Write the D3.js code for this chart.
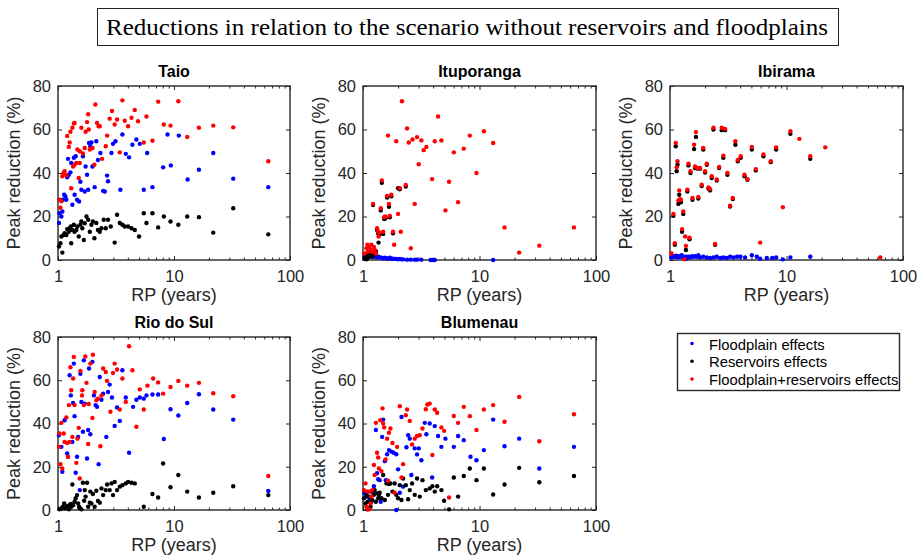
<!DOCTYPE html>
<html>
<head>
<meta charset="utf-8">
<script src="https://cdn.jsdelivr.net/npm/d3@7"></script>
<style>
  body { margin: 0; background: #fff; }
  svg { display: block; }
</style>
</head>
<body>
<script>
// data: [return period (years), peak reduction (%)]

const taioFloodplain = [[1.02,17],[1.03,21.5],[1.07,20],[1.09,22.3],[1.10,27.7],[1.13,30],[1.16,29.2],[1.18,27.7],[1.20,38],[1.22,46.5],[1.24,39.2],[1.28,40.3],[1.30,44.6],[1.33,25.4],[1.37,47],[1.39,30],[1.42,47.7],[1.46,27.7],[1.52,26.9],[1.56,36],[1.59,32.3],[1.64,47.7],[1.70,31.5],[1.73,43],[1.78,39.2],[1.82,32.3],[1.85,53.8],[1.90,52.3],[1.94,54],[1.98,43],[2.07,33.5],[2.14,54.6],[2.21,46],[2.32,49.2],[2.45,31.8],[2.53,31.5],[2.65,38.8],[2.70,36.2],[2.89,49.2],[2.98,53.4],[3.13,54.6],[3.45,32.3],[3.59,57.7],[3.84,48.8],[4.10,47.2],[4.38,53],[4.74,55.4],[5.07,53.4],[5.49,32.3],[5.87,49.2],[6.52,33.5],[8.06,42.6],[8.79,57.7],[9.39,43.5],[11.0,57.2],[13.1,37],[16.4,41.5],[21.8,49.2],[32.4,37.4],[65,33.5]];
const taioReservoirs = [[1.02,6.2],[1.05,7.7],[1.07,10.8],[1.09,3.4],[1.12,11.5],[1.14,12.3],[1.18,11.5],[1.20,14.2],[1.24,13],[1.26,14.6],[1.29,15.4],[1.33,13.8],[1.30,7.7],[1.37,16.2],[1.39,13],[1.44,13.8],[1.47,15.4],[1.51,10.8],[1.56,16.2],[1.59,17.7],[1.62,14.6],[1.67,9.2],[1.70,16.9],[1.76,20],[1.82,18.5],[1.88,13],[1.94,16.2],[2.00,17.7],[2.06,10],[2.14,17],[2.21,13.8],[2.29,13],[2.37,14.6],[2.48,18.5],[2.58,14.6],[2.70,18.5],[2.85,15.4],[3.08,8],[3.23,20.8],[3.41,17],[3.59,16.2],[3.76,15.4],[4.02,15.4],[4.30,14.6],[4.59,13.8],[5.00,10.8],[5.79,17],[5.49,21.5],[6.52,21.5],[7.30,15],[8.17,20],[9.33,17.7],[10.9,16.2],[13.0,20],[16.4,19.7],[21.8,12.6],[32.4,23.8],[65,11.8]];
const taioBoth = [[1.03,27.7],[1.05,24],[1.07,27],[1.09,38.5],[1.12,40],[1.14,40.8],[1.18,39],[1.20,57],[1.24,52],[1.26,54],[1.28,59],[1.33,60.8],[1.37,62.8],[1.39,63],[1.30,33],[1.35,43],[1.39,43.8],[1.44,44.6],[1.47,50.8],[1.51,37.7],[1.54,44.6],[1.54,50],[1.59,60.8],[1.64,49],[1.70,51.5],[1.73,59],[1.78,63.4],[1.82,67],[1.84,60],[1.88,50.8],[1.98,51.5],[2.06,43.8],[2.10,71.5],[2.17,63],[2.24,61.5],[2.29,61.5],[2.40,46.5],[2.58,52.3],[2.65,57.2],[2.79,65],[2.92,68.5],[3.08,62.3],[3.23,64.6],[3.41,49.5],[3.59,73.4],[3.76,64],[4.02,61.5],[4.30,65.4],[4.59,69],[4.90,63.8],[5.49,54],[5.79,66],[6.52,54.8],[7.30,72.8],[8.17,62.3],[9.33,61.8],[10.9,73],[13.0,56.6],[16.4,60.8],[21.8,61.8],[32.4,61],[65,45.4]];

const ituFloodplain = [[1.03,1.5],[1.07,2.3],[1.10,1.8],[1.14,1.5],[1.18,2.3],[1.22,1.5],[1.26,1.8],[1.30,1.2],[1.35,1.5],[1.39,1.2],[1.44,1.1],[1.49,0.8],[1.54,1.1],[1.58,0.8],[1.64,0.6],[1.70,1.1],[1.75,0.6],[1.81,0.6],[1.87,0.5],[1.93,0.5],[2.00,0.3],[2.07,0.5],[2.14,0.3],[2.21,0.3],[2.39,0.15],[2.57,0.15],[2.78,0.15],[2.91,0.15],[3.17,0.15],[3.8,0],[3.92,0],[4.13,0],[13.1,0]];
const ituReservoirs = [[1.03,0.5],[1.05,1.5],[1.07,0.3],[1.09,2.5],[1.10,1],[1.13,3.5],[1.16,2],[1.18,3],[1.20,1.5],[1.22,25.3],[1.24,2.5],[1.29,4],[1.32,13.8],[1.35,12.3],[1.36,8],[1.39,11.8],[1.42,22.8],[1.45,35.5],[1.49,12],[1.52,18.8],[1.56,19.2],[1.61,28.7],[1.67,24.5],[1.70,19.6],[1.75,29.3],[1.81,12.3],[2.00,33],[2.07,32.5],[2.33,33.8]];
const ituBoth = [[1.03,3],[1.07,5.4],[1.09,7],[1.10,3.8],[1.13,6],[1.16,4.6],[1.18,7],[1.20,3.8],[1.22,25.8],[1.24,6],[1.26,4.6],[1.29,3],[1.32,14.6],[1.35,13],[1.36,10.8],[1.39,12.6],[1.42,23.8],[1.45,36.6],[1.49,13],[1.52,19.7],[1.56,20],[1.61,29.5],[1.64,57.2],[1.67,25.8],[1.70,20.3],[1.75,30],[1.81,13],[1.85,7],[1.93,54.6],[2.00,21.2],[2.07,33],[2.11,13],[2.16,73],[2.33,34.5],[2.39,60.5],[2.47,54],[2.57,5.4],[2.66,55.4],[2.78,25.8],[2.91,56.5],[3.01,44],[3.17,55],[3.32,50.5],[3.50,52],[3.92,37.2],[4.13,54.6],[4.41,66],[4.71,55],[5.10,22.8],[5.48,36],[6.02,49.5],[6.55,26.6],[7.33,51.2],[8.26,57.2],[9.42,40],[10.9,59.2],[13.1,53.8],[16.4,15],[21.9,3.4],[32.6,6.6],[64.7,15]];

const ibiFloodplain = [[1.03,1.2],[1.07,1.8],[1.10,1.5],[1.13,2],[1.16,1.2],[1.18,1.5],[1.20,1.8],[1.23,1.5],[1.26,2.2],[1.30,1.2],[1.35,1.5],[1.39,0.6],[1.44,1.5],[1.49,1.2],[1.54,1.8],[1.59,1.5],[1.64,1.8],[1.69,1.5],[1.75,2.2],[1.81,1.2],[1.93,1.5],[2.07,1.2],[2.21,0.9],[2.36,1.2],[2.52,1.5],[2.70,0.9],[2.87,1.2],[3.07,0.9],[3.28,1.5],[3.51,1.2],[3.76,1.5],[4.02,1.5],[4.41,1.2],[5.04,2.2],[5.56,1.5],[5.94,0.6],[6.77,0.9],[7.55,0.9],[8.15,1.2],[9.30,0.3],[10.8,1.2],[16.0,1.5]];
const ibiReservoirs = [[1.07,20.3],[1.10,7],[1.12,52.3],[1.14,40.8],[1.16,43.8],[1.18,25.8],[1.20,30],[1.22,27],[1.24,26.5],[1.27,13],[1.30,21.2],[1.37,4.6],[1.41,31.5],[1.44,43.5],[1.47,9.5],[1.50,40],[1.56,27.7],[1.61,51],[1.64,42.3],[1.67,56.6],[1.72,42],[1.75,28.3],[1.81,42],[1.87,34],[1.93,50.8],[2.00,40.2],[2.07,43.8],[2.14,32.8],[2.21,32],[2.28,37.7],[2.36,60],[2.44,7],[2.52,36.5],[2.64,42.3],[2.78,59.7],[2.87,47],[2.97,59.7],[3.11,39.2],[3.28,24.6],[3.46,28],[3.64,53],[3.82,45.4],[4.05,47],[4.36,38.5],[4.62,36.9],[5.04,50.8],[5.45,41.2],[6.34,47.7],[7.33,45],[8.15,50.8],[10.8,58],[16.0,46.5]];
const ibiBoth = [[1.03,3],[1.07,21.2],[1.10,7.7],[1.12,53.8],[1.14,42.6],[1.16,45.4],[1.18,27.4],[1.20,32],[1.22,28],[1.24,27.7],[1.27,14.2],[1.30,22.3],[1.33,0.3],[1.35,10.8],[1.37,6.5],[1.41,32.3],[1.44,44.3],[1.47,10.2],[1.50,40.8],[1.56,28.5],[1.61,53],[1.64,43],[1.67,58.8],[1.72,42.3],[1.75,29],[1.81,42.3],[1.87,34.6],[1.93,51.5],[2.00,40.8],[2.07,44.3],[2.14,33.4],[2.21,32.6],[2.28,38.5],[2.36,60.8],[2.44,7.4],[2.52,37],[2.64,42.8],[2.78,60.8],[2.87,48],[2.97,60.3],[3.11,40],[3.28,25],[3.46,28.5],[3.64,54.6],[3.82,46],[4.05,47.7],[4.36,39.2],[4.62,37.2],[5.04,52],[5.45,41.8],[5.94,8],[6.34,48.5],[7.33,45.4],[8.15,51.8],[9.30,24.3],[10.8,59.2],[12.9,55.7],[16.0,47.7],[21.5,51.8],[63.8,1.2]];

const rioFloodplain = [[1.02,34.6],[1.07,29.2],[1.09,17.7],[1.14,41.5],[1.20,26.2],[1.22,24.6],[1.26,62.3],[1.29,53],[1.33,31.5],[1.35,49.5],[1.37,67.7],[1.39,43.4],[1.42,17.2],[1.46,24.6],[1.49,33.8],[1.54,9.2],[1.56,63],[1.59,50],[1.64,36.2],[1.67,69.2],[1.70,49.2],[1.78,23.8],[1.82,37],[1.85,65.4],[1.90,35],[1.98,68.5],[2.04,53],[2.11,48.5],[2.17,47.7],[2.24,21.2],[2.29,61.5],[2.37,51],[2.45,53.8],[2.61,33.8],[2.70,54.6],[2.79,58],[2.92,52],[3.08,38.9],[3.23,47.4],[3.41,41.2],[3.59,64.6],[3.84,52],[4.10,26.5],[4.44,47.7],[4.74,51],[5.07,52],[5.49,51.5],[5.79,53],[6.52,53.4],[7.30,53.4],[8.17,32.8],[9.33,46.6],[10.9,43.7],[13.0,49.5],[16.4,53.5],[21.8,46.5],[32.4,41.8],[65,8.8]];
const rioReservoirs = [[1.03,0.3],[1.07,0.8],[1.10,1.5],[1.13,3],[1.14,0.8],[1.18,1.2],[1.20,1.8],[1.24,0.3],[1.26,2.3],[1.29,2.8],[1.30,1.5],[1.33,11.8],[1.35,2.2],[1.39,3.8],[1.42,5.4],[1.46,6.9],[1.49,3],[1.52,1.5],[1.54,0.8],[1.59,0.3],[1.64,12.6],[1.68,4.3],[1.70,9.2],[1.73,6.2],[1.78,12.6],[1.82,1.5],[1.88,3.4],[1.90,8.5],[1.94,3],[2.00,7.4],[2.07,1.5],[2.14,8.9],[2.21,4.2],[2.29,3.4],[2.37,10],[2.45,6.9],[2.58,9.2],[2.65,11.8],[2.79,9.2],[2.89,12.3],[2.98,6.9],[3.08,13],[3.23,9.2],[3.41,10.8],[3.59,11.5],[3.84,12.3],[4.02,13],[4.30,12.6],[4.59,12.3],[5.49,1.5],[6.52,7.4],[7.30,5.8],[8.06,21.5],[9.33,10.5],[10.9,16.2],[13.0,8.5],[16.4,5.8],[21.8,8],[32.4,11],[65,6.9]];
const rioBoth = [[1.02,29.2],[1.03,35.4],[1.05,21.2],[1.07,40.3],[1.09,19.2],[1.12,35.4],[1.14,31.5],[1.18,42.8],[1.20,31],[1.22,24.6],[1.24,48.5],[1.26,31.5],[1.28,66],[1.30,55.4],[1.33,33.8],[1.35,60.8],[1.37,70.8],[1.39,48.5],[1.44,21.8],[1.47,33],[1.51,38],[1.54,14.6],[1.56,64.3],[1.61,53],[1.62,55.4],[1.67,48.5],[1.72,71],[1.76,58.8],[1.82,30.5],[1.84,49],[1.90,67.7],[1.98,42.6],[2.00,71.8],[2.07,54.6],[2.14,50.8],[2.21,51.5],[2.32,29.5],[2.37,53],[2.45,65.4],[2.58,63.8],[2.65,59.7],[2.83,45.4],[2.98,63.4],[3.08,67.7],[3.23,65],[3.41,46.5],[3.59,60.8],[3.84,50],[4.10,75.7],[4.38,64.6],[4.74,38.5],[5.07,55.8],[5.49,46.5],[5.90,57.5],[6.61,60.8],[7.30,59],[8.06,53.8],[9.33,56.9],[10.9,59.7],[13.0,57.5],[16.4,58.8],[21.8,54],[32.4,52.6],[65,15.7]];

const bluFloodplain = [[1.03,7.7],[1.07,6.2],[1.10,8.5],[1.14,5.4],[1.18,3.8],[1.22,8.5],[1.24,11],[1.29,37],[1.32,17],[1.35,14.2],[1.39,13.8],[1.42,3.8],[1.46,33.8],[1.49,41.8],[1.54,22.6],[1.57,13.8],[1.61,25.8],[1.67,27.7],[1.75,27],[1.83,26.5],[1.93,25.8],[1.93,0],[2.00,18.8],[2.07,8],[2.14,43],[2.21,10.8],[2.36,29],[2.44,34.6],[2.52,33],[2.60,16.2],[2.78,28.5],[2.91,25.7],[3.01,28.5],[3.17,23],[3.39,40.3],[3.50,35],[3.74,40],[3.92,15],[4.13,38.8],[4.41,34.2],[4.71,29.2],[5.10,33],[6.02,29.2],[6.55,34.2],[7.33,32.3],[8.37,24.6],[9.42,23],[10.9,27.7],[13.1,41.8],[16.4,29.5],[21.9,33],[32.6,19.2],[64.7,29.2]];
const bluReservoirs = [[1.02,5.4],[1.05,3],[1.07,7],[1.09,0.3],[1.10,3.8],[1.13,6.2],[1.16,1.5],[1.18,8.5],[1.20,4.6],[1.24,7],[1.26,9.2],[1.29,3.8],[1.32,7.7],[1.35,5.4],[1.37,7],[1.39,8],[1.44,5.4],[1.49,16.2],[1.54,4.6],[1.59,12.3],[1.64,7],[1.67,12],[1.72,12.3],[1.79,8.5],[1.87,12.3],[1.93,7],[2.00,5.4],[2.07,11.5],[2.14,4.6],[2.21,14.6],[2.33,11.5],[2.44,5],[2.52,9.2],[2.64,12.3],[2.78,7],[2.91,14.6],[3.07,6.2],[3.24,13.8],[3.46,9.2],[3.74,10],[3.94,11],[4.13,8.5],[4.33,11],[4.71,9.2],[4.97,4.3],[5.48,0.3],[6.02,15],[6.55,6.2],[7.33,15.7],[8.26,19.2],[9.42,13.8],[10.9,19.2],[13.1,7.2],[16.4,11.8],[21.9,19.5],[32.6,12.8],[64.7,15.7]];
const bluBoth = [[1.02,9.2],[1.05,12.3],[1.07,1.5],[1.09,8.5],[1.10,0.3],[1.13,0.3],[1.14,8.5],[1.16,3],[1.18,6.2],[1.20,9.2],[1.24,20.8],[1.26,16.2],[1.29,40.3],[1.32,26.5],[1.35,24.3],[1.37,19.2],[1.41,41.5],[1.44,18],[1.47,47],[1.49,40],[1.52,38.2],[1.56,23.4],[1.61,33],[1.64,13.5],[1.67,35.7],[1.72,37.7],[1.79,31],[1.87,8],[1.96,29.2],[2.07,48],[2.14,15],[2.21,21.2],[2.33,43.8],[2.39,46.5],[2.52,41.2],[2.64,30.3],[2.78,33],[2.91,34.2],[3.07,34.6],[3.24,37.7],[3.46,46.6],[3.57,48.8],[3.74,49.2],[3.94,25.4],[4.13,46.5],[4.33,45],[4.71,38.2],[4.97,36.6],[5.48,5.8],[6.02,43.5],[6.55,40.3],[7.33,47.7],[8.26,43.4],[9.42,37],[10.9,46.5],[13.1,48.5],[16.4,40.8],[21.9,52.3],[32.6,31.8],[64.7,44.3]];

const stations = ["Taio", "Ituporanga", "Ibirama", "Rio do Sul", "Blumenau"];
const seriesNames = ["Floodplain effects", "Reservoirs effects", "Floodplain+reservoirs effects"];
const seriesColors = ["#0000ff", "#000000", "#ff0000"];
const xTicks = [1, 10, 100];
const yTicks = [0, 20, 40, 60, 80];

const stationData = {
  "Taio": [taioFloodplain, taioReservoirs, taioBoth],
  "Ituporanga": [ituFloodplain, ituReservoirs, ituBoth],
  "Ibirama": [ibiFloodplain, ibiReservoirs, ibiBoth],
  "Rio do Sul": [rioFloodplain, rioReservoirs, rioBoth],
  "Blumenau": [bluFloodplain, bluReservoirs, bluBoth]
};

// panel boxes in page pixels
const panelBoxes = [
  {x0: 58,  x1: 290, y0: 86,  y1: 260},
  {x0: 363, x1: 596, y0: 86,  y1: 260},
  {x0: 670, x1: 903, y0: 86,  y1: 260},
  {x0: 58,  x1: 290, y0: 337, y1: 510},
  {x0: 363, x1: 596, y0: 337, y1: 510}
];

const W = 920, H = 559;
const axisColor = "#262626";
const sans = "Arial, 'Liberation Sans', Helvetica, sans-serif";

const svg = d3.select("body").append("svg")
  .attr("width", W)
  .attr("height", H);

svg.append("rect").attr("width", W).attr("height", H).attr("fill", "#fff");

// main title in a box
svg.append("rect")
  .attr("x", 97.5).attr("y", 8.5)
  .attr("width", 741).attr("height", 37)
  .attr("fill", "#fff")
  .attr("stroke", "#222").attr("stroke-width", 1);

svg.append("text")
  .attr("x", 467).attr("y", 35)
  .attr("text-anchor", "middle")
  .attr("font-family", "'Times New Roman', 'Liberation Serif', serif")
  .attr("font-size", 24)
  .attr("textLength", 722)
  .attr("lengthAdjust", "spacingAndGlyphs")
  .attr("fill", "#000")
  .text("Reductions in relation to the scenario without reservoirs and floodplains");

stations.forEach((name, i) => {
  const b = panelBoxes[i];
  const x = d3.scaleLog().domain([1, 100]).range([b.x0, b.x1]);
  const y = d3.scaleLinear().domain([0, 80]).range([b.y1, b.y0]);

  const g = svg.append("g");

  const minor = [];
  [1, 10].forEach(d => { for (let k = 2; k <= 9; k++) minor.push(d * k); });

  // x axis bottom + top (inward ticks)
  g.append("g").attr("transform", `translate(0,${b.y1})`)
    .call(d3.axisBottom(x).tickValues(xTicks).tickFormat(d3.format("d")).tickSizeInner(-4).tickSizeOuter(0).tickPadding(10));
  g.append("g").attr("transform", `translate(0,${b.y0})`)
    .call(d3.axisTop(x).tickValues(xTicks).tickFormat("").tickSizeInner(-4).tickSizeOuter(0));
  g.append("g").attr("transform", `translate(0,${b.y1})`)
    .call(d3.axisBottom(x).tickValues(minor).tickFormat("").tickSizeInner(-2.5).tickSizeOuter(0));
  g.append("g").attr("transform", `translate(0,${b.y0})`)
    .call(d3.axisTop(x).tickValues(minor).tickFormat("").tickSizeInner(-2.5).tickSizeOuter(0));

  // y axis left + right
  g.append("g").attr("transform", `translate(${b.x0},0)`)
    .call(d3.axisLeft(y).tickValues(yTicks).tickSizeInner(-4).tickSizeOuter(0).tickPadding(7));
  g.append("g").attr("transform", `translate(${b.x1},0)`)
    .call(d3.axisRight(y).tickValues(yTicks).tickFormat("").tickSizeInner(-4).tickSizeOuter(0));

  g.selectAll(".domain").remove();
  g.selectAll(".tick line").attr("stroke", axisColor).attr("stroke-width", 1);
  g.selectAll(".tick text")
    .attr("font-family", sans)
    .attr("font-size", 16.5)
    .attr("fill", axisColor);

  // box
  g.append("rect")
    .attr("x", b.x0).attr("y", b.y0)
    .attr("width", b.x1 - b.x0).attr("height", b.y1 - b.y0)
    .attr("fill", "none")
    .attr("stroke", axisColor)
    .attr("stroke-width", 1.4);

  // points: floodplain, reservoirs, combined (combined on top)
  stationData[name].forEach((series, s) => {
    g.append("g")
      .selectAll("circle")
      .data(series)
      .join("circle")
        .attr("cx", d => x(d[0]))
        .attr("cy", d => y(d[1]))
        .attr("r", 2.2)
        .attr("fill", seriesColors[s]);
  });

  // panel title
  g.append("text")
    .attr("x", (b.x0 + b.x1) / 2).attr("y", b.y0 - 9)
    .attr("text-anchor", "middle")
    .attr("font-family", sans)
    .attr("font-size", 16)
    .attr("font-weight", "bold")
    .attr("fill", "#000")
    .text(name);

  // axis labels
  g.append("text")
    .attr("x", (b.x0 + b.x1) / 2).attr("y", b.y1 + 41)
    .attr("text-anchor", "middle")
    .attr("font-family", sans)
    .attr("font-size", 18)
    .attr("fill", axisColor)
    .text("RP (years)");

  g.append("text")
    .attr("transform", `translate(${b.x0 - 38},${(b.y0 + b.y1) / 2}) rotate(-90)`)
    .attr("text-anchor", "middle")
    .attr("font-family", sans)
    .attr("font-size", 18)
    .attr("fill", axisColor)
    .text("Peak reduction (%)");
});

// legend
const lg = svg.append("g");
lg.append("rect")
  .attr("x", 677.5).attr("y", 333.5)
  .attr("width", 222).attr("height", 57)
  .attr("fill", "#fff")
  .attr("stroke", axisColor).attr("stroke-width", 1.4);

seriesNames.forEach((nm, s) => {
  const cy = 343.5 + s * 17.8;
  lg.append("circle")
    .attr("cx", 692).attr("cy", cy).attr("r", 1.8)
    .attr("fill", seriesColors[s]);
  lg.append("text")
    .attr("x", 709).attr("y", cy + 6)
    .attr("font-family", sans)
    .attr("font-size", 14.8)
    .attr("fill", "#000")
    .text(nm);
});
</script>
</body>
</html>
